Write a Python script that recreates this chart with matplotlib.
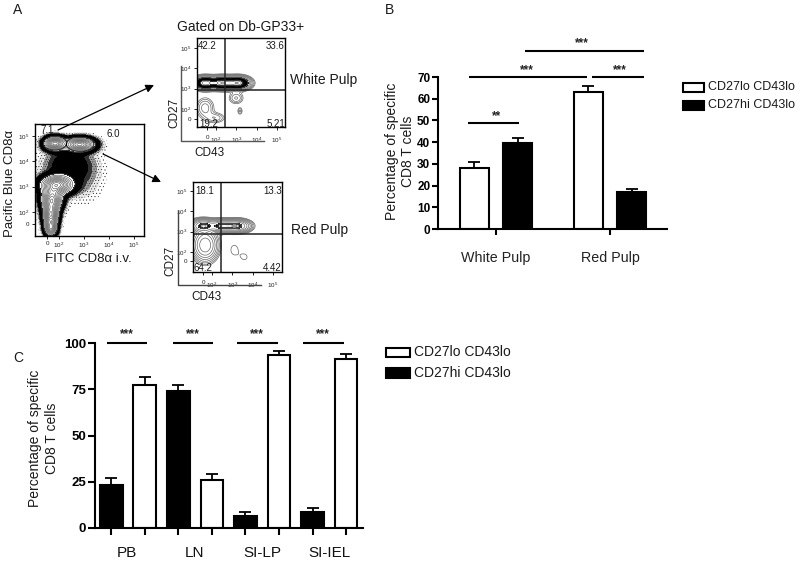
import numpy as np
import matplotlib
matplotlib.use('Agg')
import matplotlib.pyplot as plt
from matplotlib.patches import Ellipse, Rectangle

plt.rcParams['font.family'] = ['Liberation Sans', 'DejaVu Sans']
plt.rcParams['mathtext.default'] = 'regular'
plt.rcParams['hatch.linewidth'] = 0.25

W, H = 800, 564

# Panel B
b_groups = ['White Pulp', 'Red Pulp']
b_lo = [28.2, 63.2]
b_lo_err = [2.8, 2.8]
b_hi = [39.5, 17.0]
b_hi_err = [2.5, 1.4]
b_ticks = [0, 10, 20, 30, 40, 50, 60, 70]

# Panel C
c_groups = ['PB', 'LN', 'SI-LP', 'SI-IEL']
c_hi = [23.5, 74.0, 6.3, 8.9]
c_hi_err = [3.6, 3.2, 2.4, 2.1]
c_lo = [77.4, 26.2, 93.5, 91.3]
c_lo_err = [4.0, 2.9, 2.3, 2.6]
c_ticks = [0, 25, 50, 75, 100]

# Flow populations, in decades: x, y, sd x, sd y, weight
main_blobs = [
    (1.84, 4.70, 0.25, 0.16, 1.0), (2.83, 4.66, 0.35, 0.16, 1.0),
    (2.35, 3.85, 0.58, 0.40, 0.115), (2.95, 3.4, 0.48, 0.6, 0.035),
    (1.92, 3.07, 0.38, 0.22, 1.0), (1.72, 2.47, 0.24, 0.26, 1.0),
    (1.68, 1.87, 0.18, 0.25, 1.0), (1.68, 1.36, 0.15, 0.18, 0.8),
]
white_blobs = [
    (1.46, 3.28, 0.30, 0.17, 1.0), (2.30, 3.28, 0.32, 0.17, 1.0),
    (3.08, 3.28, 0.32, 0.17, 1.0),
    (1.46, 2.05, 0.26, 0.30, 0.12), (1.95, 1.56, 0.30, 0.16, 0.09),
    (2.99, 2.54, 0.22, 0.18, 0.10), (3.18, 1.90, 0.08, 0.12, 0.07),
]
red_blobs = [
    (1.56, 3.28, 0.30, 0.16, 0.75), (2.49, 3.28, 0.35, 0.15, 0.75),
    (3.23, 3.28, 0.32, 0.15, 0.75), (1.66, 2.34, 0.30, 0.38, 0.55),
    (3.1, 2.1, 0.22, 0.3, 0.02), (3.6, 1.75, 0.2, 0.2, 0.018),
]

plots = {
    'main': {'box': (35, 124, 144, 236), 'xlim': (1.05, 5.40), 'ylim': (1.05, 5.47),
             'blobs': main_blobs, 'xt': [1.53, 2, 3, 4, 5], 'yt': [1.53, 2, 3, 4, 5]},
    'white': {'box': (197, 38, 285, 127), 'xlim': (1.06, 5.40), 'ylim': (1.11, 5.50),
              'blobs': white_blobs, 'xt': [1.56, 2, 3, 4, 5], 'yt': [1.51, 2, 3, 4, 5]},
    'red': {'box': (193, 182, 282, 272), 'xlim': (1.06, 5.45), 'ylim': (1.01, 5.45),
            'blobs': red_blobs, 'xt': [1.56, 2, 3, 4, 5], 'yt': [1.55, 2, 3, 4, 5]},
}


def px_axes(left, top, right, bottom):
    return fig.add_axes([left / W, 1 - bottom / H, (right - left) / W, (bottom - top) / H])


def density(blobs, xlim, ylim):
    X, Y = np.meshgrid(np.linspace(*xlim, 400), np.linspace(*ylim, 400))
    Z = np.zeros_like(X)
    for x0, y0, sx, sy, w in blobs:
        Z += w * np.exp(-((X - x0) / sx) ** 2 / 2 - ((Y - y0) / sy) ** 2 / 2)
    return X, Y, Z


def flow_plot(p, black_from, black_to, fade=True, n_lines=9, line_from=0.03, n_low=6, xpad=4):
    ax = px_axes(*p['box'])
    X, Y, Z = density(p['blobs'], p['xlim'], p['ylim'])
    if fade:
        # sparse events around the populations
        ax.contourf(X, Y, Z, levels=[0.006, 0.015, 0.03, 0.05, black_from],
                    colors=['white', '#e8e8e8', '#999999', '#303030'],
                    hatches=['.....', '......', '.......', None])
    else:
        ax.contour(X, Y, Z, levels=np.geomspace(line_from, black_from, n_low),
                   colors='#666666', linewidths=0.5)
    ax.contourf(X, Y, Z, levels=[black_from, black_to], colors='black')
    ax.contour(X, Y, Z, levels=np.linspace(black_to, Z.max() * 0.97, n_lines),
               colors='#555555', linewidths=0.45)
    ax.set_xlim(*p['xlim'])
    ax.set_ylim(*p['ylim'])
    labels = ['0', '$10^2$', '$10^3$', '$10^4$', '$10^5$']
    ax.set_xticks(p['xt'], labels)
    ax.set_yticks(p['yt'], labels)
    ax.tick_params(length=2, width=0.7, labelsize=4.5, pad=2, colors='#222222')
    ax.tick_params(axis='x', pad=xpad)
    for s in ax.spines.values():
        s.set_linewidth(1.0)
    return ax


def style_bars(ax):
    ax.spines['top'].set_visible(False)
    ax.spines['right'].set_visible(False)
    ax.spines['left'].set_linewidth(1.5)
    ax.spines['bottom'].set_linewidth(1.5)
    ax.set_facecolor('none')


def sig_line(ax, x0, x1, y, stars, xs, ys):
    ax.plot([x0, x1], [y, y], color='black', lw=1.5, clip_on=False, solid_capstyle='butt')
    ax.text(xs, ys, stars, ha='center', va='center', fontsize=8.5, fontweight='bold',
            color='#222222', clip_on=False)


fig = plt.figure(figsize=(W / 100, H / 100), dpi=100)

# A: flow plots
ax_main = flow_plot(plots['main'], 0.07, 0.2, n_lines=11, xpad=1.5)
ax_main.add_patch(Ellipse((1.84, 4.72), 0.95, 0.55, fill=False, ec='black', lw=0.8))
ax_main.add_patch(Ellipse((2.85, 4.68), 1.1, 0.58, fill=False, ec='black', lw=0.8))
ax_white = flow_plot(plots['white'], 0.3, 0.75, fade=False, n_lines=3, line_from=0.03, n_low=7)
ax_white.axvline(2.44, color='#222222', lw=1.1)
ax_white.axhline(2.94, color='#222222', lw=1.1)
ax_red = flow_plot(plots['red'], 0.58, 0.68, fade=False, n_lines=3, line_from=0.015, n_low=9)
ax_red.axvline(2.44, color='#222222', lw=1.1)
ax_red.axhline(2.89, color='#222222', lw=1.1)

# B
ax_b = px_axes(438, 77, 667, 229)
x_b = np.arange(len(b_groups))
err_kw = dict(ecolor='black', elinewidth=1.3, capsize=4.5, capthick=1.3)
ax_b.bar(x_b - 0.19, b_lo, 0.255, color='white', edgecolor='black', linewidth=1.5)
ax_b.errorbar(x_b - 0.19, b_lo, yerr=[[0, 0], b_lo_err], fmt='none', **err_kw)
ax_b.bar(x_b + 0.19, b_hi, 0.255, color='black', edgecolor='black', linewidth=1.5)
ax_b.errorbar(x_b + 0.19, b_hi, yerr=[[0, 0], b_hi_err], fmt='none', **err_kw)
ax_b.set_xlim(-0.51, 1.5)
ax_b.set_ylim(0, 70)
ax_b.set_xticks(x_b, b_groups, fontsize=10.3)
ax_b.set_yticks(b_ticks)
ax_b.tick_params(axis='x', length=4, width=1.5, pad=12, labelcolor='#222222')
ax_b.tick_params(axis='y', length=4, width=1.5, pad=1.5, labelsize=8.5)
for t in ax_b.get_yticklabels():
    t.set_fontweight('bold')
style_bars(ax_b)
sig_line(ax_b, 0.25, 1.30, 82, '***', 0.755, 85.5)
sig_line(ax_b, -0.24, 0.80, 70, '***', 0.27, 73.3)
sig_line(ax_b, 0.84, 1.30, 70, '***', 1.09, 73.3)
sig_line(ax_b, -0.245, 0.20, 48.8, '**', 0.0, 52)

# C
ax_c = px_axes(95, 343, 363, 528)
x_c = np.arange(len(c_groups)) * 2
ax_c.bar(x_c, c_hi, 0.69, color='black', edgecolor='black', linewidth=1.5)
ax_c.errorbar(x_c, c_hi, yerr=[[0] * 4, c_hi_err], fmt='none', **err_kw)
ax_c.bar(x_c + 1, c_lo, 0.67, color='white', edgecolor='black', linewidth=1.5)
ax_c.errorbar(x_c + 1, c_lo, yerr=[[0] * 4, c_lo_err], fmt='none', **err_kw)
ax_c.set_xlim(-0.48, 7.5)
ax_c.set_ylim(0, 100)
ax_c.set_xticks(np.arange(8), [''] * 8)
ax_c.set_yticks(c_ticks)
ax_c.tick_params(axis='x', length=5, width=1.5)
ax_c.tick_params(axis='y', length=5, width=1.5, pad=1.5, labelsize=9.5)
for t in ax_c.get_yticklabels():
    t.set_fontweight('bold')
style_bars(ax_c)
for x0, x1, xs in [(-0.12, 1.07, 0.47), (1.85, 3.04, 2.44), (3.75, 4.97, 4.35), (5.71, 6.93, 6.31)]:
    sig_line(ax_c, x0, x1, 100, '***', xs, 105)
for x, name in zip([0.48, 2.47, 4.49, 6.49], c_groups):
    ax_c.text(x, -13.5, name, ha='center', va='center', fontsize=11, color='#111111')

# Text, arrows and legends placed in figure pixels
ov = fig.add_axes([0, 0, 1, 1], facecolor='none')
ov.set_xlim(0, W)
ov.set_ylim(H, 0)
ov.axis('off')


def label(x, y, s, size=9, ha='center', rot=0, **kw):
    ov.text(x, y, s, fontsize=size, ha=ha, va='center', rotation=rot, color='#1a1a1a', **kw)


label(18, 10, 'A', 10)
label(389, 10, 'B', 10)
label(18, 358, 'C', 10)
label(241, 27, 'Gated on Db-GP33+', 10)
label(324, 80, 'White Pulp', 10)
label(320, 230, 'Red Pulp', 10)
label(209, 153, 'CD43', 8.5)
label(206, 297, 'CD43', 8.5)
label(174, 113, 'CD27', 8.5, rot=90)
label(170, 261, 'CD27', 8.5, rot=90)
label(10, 183, 'Pacific Blue CD8\u03b1', 9.5, rot=90)
label(88, 259, 'FITC CD8\u03b1 i.v.', 9.5)
label(400, 151, 'Percentage of specific\nCD8 T cells', 10, rot=90, linespacing=1.15)
label(43.5, 438, 'Percentage of specific\nCD8 T cells', 10, rot=90, linespacing=1.2)

for x, y, s, ha in [(47, 130, '7.1', 'center'), (113, 134, '6.0', 'center'),
                    (198, 46, '42.2', 'left'), (285, 46, '33.6', 'right'),
                    (199, 124, '19.2', 'left'), (285, 124, '5.21', 'right'),
                    (195, 191, '18.1', 'left'), (282, 191, '13.3', 'right'),
                    (194, 268, '64.2', 'left'), (282, 268, '4.42', 'right')]:
    label(x, y, s, 7, ha=ha)

for start, end in [((58, 130), (154, 85)), ((103, 154), (161, 182))]:
    ov.annotate('', xy=end, xytext=start, arrowprops=dict(arrowstyle='-|>', color='black',
                lw=0.9, mutation_scale=12, shrinkA=0, shrinkB=0))

# L-shaped axis lines of the two gated plots
ov.plot([181, 181, 264], [66, 141, 141], color='#555555', lw=1.0)
ov.plot([178, 178, 261], [211, 285, 285], color='#444444', lw=1.0)

for x0, x1, rows, size, tx in [(683, 704, [(83, 92), (101, 110)], 9, 708),
                               (386, 410, [(348, 357), (368, 378)], 10, 414)]:
    for (y0, y1), color, s in zip(rows, ['white', 'black'], ['CD27lo CD43lo', 'CD27hi CD43lo']):
        ov.add_patch(Rectangle((x0, y0), x1 - x0, y1 - y0, fc=color, ec='black', lw=1.5))
        label(tx, (y0 + y1) / 2, s, size, ha='left')

fig.savefig('out.png', dpi=100)
